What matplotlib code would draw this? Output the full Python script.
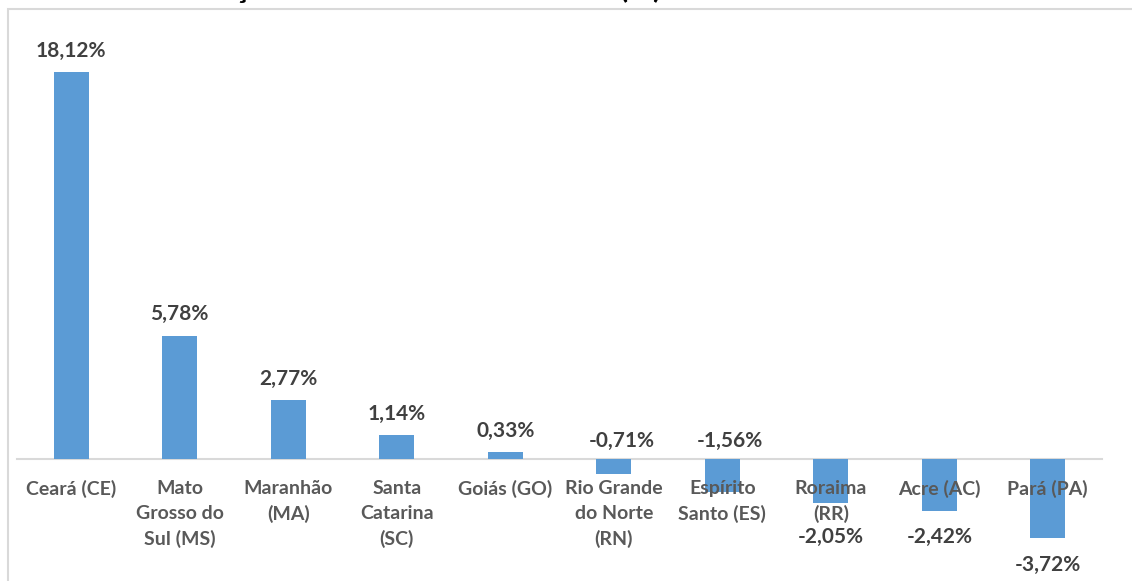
import matplotlib.pyplot as plt
from matplotlib.patches import Rectangle

# data
estados = ["Ceará (CE)", "Mato\nGrosso do\nSul (MS)", "Maranhão\n(MA)", "Santa\nCatarina\n(SC)",
           "Goiás (GO)", "Rio Grande\ndo Norte\n(RN)", "Espírito\nSanto (ES)", "Roraima\n(RR)",
           "Acre (AC)", "Pará (PA)"]
variacao = [18.12, 5.78, 2.77, 1.14, 0.33, -0.71, -1.56, -2.05, -2.42, -3.72]
titulo = "Gráfico 3 - Variação semanal de novos casos (%)"

plt.rcParams["font.family"] = ["Lato", "DejaVu Sans"]

W, H = 1132, 581
fig = plt.figure(figsize=(W / 100, H / 100), dpi=100)

# chart frame (title sits above it, mostly cut off like in the source image)
fig.patches.append(Rectangle((8 / W, -0.1), 1.3, (H - 9) / H + 0.1, transform=fig.transFigure,
                             facecolor="white", edgecolor="#d9d9d9", lw=1.5, zorder=-5))
fig.text(12 / W, 1 + 2 / H, titulo, fontsize=22, fontweight="bold", color="black",
         ha="left", va="baseline", zorder=-4)

# axes: zero at y=459 px, 21.36 px per unit
ymax, ymin = 20, -4
ppu = 21.36
top_px = 459 - ymax * ppu
bot_px = 459 - ymin * ppu
ax = fig.add_axes([17 / W, 1 - bot_px / H, (1102 - 17) / W, (bot_px - top_px) / H])
ax.set_facecolor("none")
ax.set_ylim(ymin, ymax)
ax.set_xlim(-0.5, len(estados) - 0.5)

x = range(len(estados))
ax.bar(x, variacao, width=0.32, color="#5b9bd5", zorder=1)
ax.xaxis.set_zorder(3)

for s in ["top", "right", "left"]:
    ax.spines[s].set_visible(False)
ax.spines["bottom"].set_position(("data", 0))
ax.spines["bottom"].set_color("#d9d9d9")
ax.spines["bottom"].set_linewidth(1.5)
ax.spines["bottom"].set_zorder(0.5)
ax.set_yticks([])
ax.set_xticks(list(x))
ax.set_xticklabels(estados, fontsize=14, fontweight="bold", color="#595959", linespacing=1.55)
ax.tick_params(axis="x", length=0, pad=15)

# value labels
for i, v in enumerate(variacao):
    txt = f"{v:.2f}%".replace(".", ",")
    if v >= 0:
        ax.annotate(txt, (i, v), xytext=(0, 8), textcoords="offset points", ha="center", va="bottom",
                    fontsize=15, fontweight="bold", color="#404040")
    elif v > -2:
        ax.annotate(txt, (i + 0.07, 0), xytext=(0, 6), textcoords="offset points", ha="center",
                    va="bottom", fontsize=15, fontweight="bold", color="#404040")
    else:
        # push below the two-line category labels
        ax.annotate(txt, (i, min(v, -2.42)), xytext=(0, -12), textcoords="offset points",
                    ha="center", va="top", fontsize=15, fontweight="bold", color="#404040")

fig.savefig("out.png", dpi=100)
